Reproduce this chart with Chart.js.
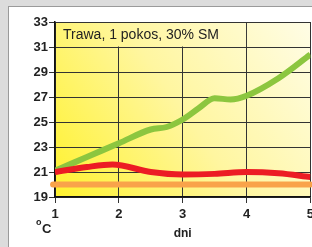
<!DOCTYPE html>
<html>
<head>
<meta charset="utf-8">
<script src="https://cdn.jsdelivr.net/npm/chart.js@4/dist/chart.umd.min.js"></script>
<style>
  html, body { margin: 0; padding: 0; background: #dcdcdc; overflow: hidden; }
  .panel { position: absolute; left: 8px; top: 6px; width: 320px; height: 260px; background: #fff; border-left: 1px solid #9a9a9a; border-top: 1px solid #9a9a9a; }
  .wrap { position: absolute; left: 0; top: 0; width: 318px; height: 247px; }
</style>
</head>
<body>
<div class="panel"></div>
<div class="wrap"><canvas id="myChart"></canvas></div>
<script>
// days / temperature values
const greenX = [1, 1.5, 2, 2.5, 2.75, 3, 3.25, 3.5, 3.75, 4, 4.5, 5];
const greenY = [21.1, 22.2, 23.3, 24.4, 24.6, 25.2, 26.1, 26.9, 26.8, 27.1, 28.5, 30.4];
const redX = [1, 1.5, 1.9, 2.5, 3, 3.5, 4, 4.5, 5];
const redY = [21.0, 21.4, 21.6, 21.0, 20.8, 20.85, 21.0, 20.9, 20.6];
const orangeX = [0.97, 5];
const orangeY = [20.0, 20.0];
const yTicks = [19, 21, 23, 25, 27, 29, 31, 33];
const xTicks = [1, 2, 3, 4, 5];
const title = 'Trawa, 1 pokos, 30% SM';

const pts = (xs, ys) => xs.map((x, i) => ({x: x, y: ys[i]}));

function bgGradient(ctx, a) {
  const g = ctx.createLinearGradient(a.left, a.bottom, a.right, a.top);
  g.addColorStop(0, '#fff22e');
  g.addColorStop(0.5, '#fff6a0');
  g.addColorStop(1, '#fffde6');
  return g;
}

const framePlugin = {
  id: 'frame',
  beforeDraw(chart) {
    const {ctx, chartArea: a} = chart;
    ctx.save();
    ctx.fillStyle = bgGradient(ctx, a);
    ctx.fillRect(a.left, a.top, a.right - a.left, a.bottom - a.top);
    ctx.restore();
  },
  beforeDatasetsDraw(chart) {
    const {ctx, chartArea: a, scales} = chart;
    const x4 = scales.x.getPixelForValue(4);
    const y31 = scales.y.getPixelForValue(31);
    ctx.save();
    ctx.fillStyle = bgGradient(ctx, a);
    ctx.fillRect(a.left + 1, a.top + 1, x4 - a.left - 1.5, y31 - a.top - 1.5);
    ctx.fillStyle = '#222';
    ctx.font = '14px Arial, "Liberation Sans"';
    ctx.textBaseline = 'middle';
    ctx.fillText(title, a.left + 8, (a.top + y31) / 2 + 1);
    // unit label
    ctx.font = 'bold 13px Arial, "Liberation Sans"';
    ctx.fillText('C', 42, 229);
    ctx.font = 'bold 9px Arial, "Liberation Sans"';
    ctx.fillText('o', 36, 223);
    ctx.restore();
  }
};

new Chart('myChart', {
  type: 'line',
  data: {
    datasets: [
      { data: pts(orangeX, orangeY), borderColor: '#f9a34a', borderWidth: 6, borderCapStyle: 'round', clip: false },
      { data: pts(redX, redY), borderColor: '#ec1c24', borderWidth: 6, cubicInterpolationMode: 'monotone' },
      { data: pts(greenX, greenY), borderColor: '#8cc63f', borderWidth: 6, cubicInterpolationMode: 'monotone' }
    ]
  },
  options: {
    responsive: true,
    maintainAspectRatio: false,
    animation: false,
    elements: { point: { radius: 0 }, line: { tension: 0.4 } },
    layout: { padding: { left: 0, top: 22, right: 0, bottom: 0 } },
    plugins: { legend: { display: false }, tooltip: { enabled: false } },
    scales: {
      x: {
        type: 'linear', min: 1, max: 5,
        afterBuildTicks: s => { s.ticks = xTicks.map(v => ({value: v})); },
        grid: { color: '#333', lineWidth: 1, tickLength: 6 },
        border: { color: '#111', width: 1.5 },
        ticks: { color: '#222', font: { family: 'Arial', size: 13, weight: 'bold' }, padding: 4 },
        title: { display: true, text: 'dni', color: '#222', font: { family: 'Arial', size: 12, weight: 'bold' }, padding: { top: 0, bottom: 6 } }
      },
      y: {
        min: 19, max: 33,
        afterBuildTicks: s => { s.ticks = yTicks.map(v => ({value: v})); },
        afterFit: s => { s.width = 55; },
        grid: { color: '#333', lineWidth: 1, tickLength: 6 },
        border: { color: '#111', width: 1.5 },
        ticks: { color: '#222', font: { family: 'Arial', size: 13, weight: 'bold' }, padding: 1 }
      }
    }
  },
  plugins: [framePlugin]
});
</script>
</body>
</html>
